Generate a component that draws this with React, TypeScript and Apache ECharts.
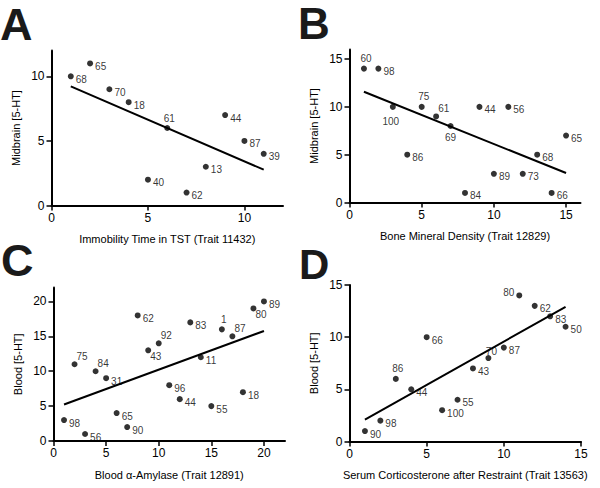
import React, { useEffect, useRef } from "react";
import * as echarts from "echarts";

// Panel A: Midbrain [5-HT] vs Immobility Time in TST
const aX = [1, 2, 3, 4, 6, 9, 10, 11, 8, 5, 7];
const aY = [10, 11, 9, 8, 6, 7, 5, 4, 3, 2, 1];
const aId = ["68", "65", "70", "18", "61", "44", "87", "39", "13", "40", "62"];
const aPlace = ["r", "r", "r", "r", "t", "r", "r", "r", "r", "r", "r"];

// Panel B: Midbrain [5-HT] vs Bone Mineral Density
const bX = [1, 2, 3, 5, 6, 7, 9, 11, 15, 4, 13, 10, 12, 8, 14];
const bY = [14, 14, 10, 10, 9, 8, 10, 10, 7, 5, 5, 3, 3, 1, 1];
const bId = ["60", "98", "100", "75", "61", "69", "44", "56", "65", "86", "68", "89", "73", "84", "66"];
const bPlace = ["t", "r", "b2", "t", "tr", "b", "r", "r", "r", "r", "r", "r", "r", "r", "r"];

// Panel C: Blood [5-HT] vs Blood α-Amylase
const cX = [1, 2, 3, 4, 5, 6, 7, 8, 9, 10, 11, 12, 13, 14, 15, 16, 17, 18, 19, 20];
const cY = [3, 11, 1, 10, 9, 4, 2, 18, 13, 14, 8, 6, 17, 12, 5, 16, 15, 7, 19, 20];
const cId = ["98", "75", "56", "84", "31", "65", "90", "62", "43", "92", "96", "44", "83", "11", "55", "1", "87", "18", "80", "89"];
const cPlace = ["r", "tr", "r", "tr", "r", "r", "r", "r", "br", "tr", "r", "r", "r", "r", "r", "t", "tr", "r", "br", "r"];

// Panel D: Blood [5-HT] vs Serum Corticosterone after Restraint
const dX = [1, 2, 3, 4, 5, 6, 7, 8, 9, 10, 11, 12, 13, 14];
const dY = [1, 2, 6, 5, 10, 3, 4, 7, 8, 9, 14, 13, 12, 11];
const dId = ["90", "98", "86", "44", "66", "100", "55", "43", "70", "87", "80", "62", "83", "50"];
const dPlace = ["r", "r", "t", "r", "r", "r", "r", "r", "tn", "r", "l", "r", "r", "r"];

const panelLetters = ["A", "B", "C", "D"];
const xTitles = [
  "Immobility Time in TST (Trait 11432)",
  "Bone Mineral Density (Trait 12829)",
  "Blood \u03b1-Amylase (Trait 12891)",
  "Serum Corticosterone after Restraint (Trait 13563)",
];
const yTitles = ["Midbrain [5-HT]", "Midbrain [5-HT]", "Blood [5-HT]", "Blood [5-HT]"];
const xMax = [12, 16, 22, 15];
const yMax = [12, 16, 22, 15];
const xTicks = [[0, 5, 10], [0, 5, 10, 15], [0, 5, 10, 15, 20], [0, 5, 10, 15]];
const yTicks = [[0, 5, 10], [0, 5, 10, 15], [0, 5, 10, 15, 20], [0, 5, 10, 15]];

const FONT = "'Liberation Sans', Arial, Helvetica, sans-serif";

const placeStyle: Record<string, any> = {
  r: { align: "left", offset: [5, 3] },
  t: { align: "center", offset: [2, -10] },
  tn: { align: "center", offset: [3, -7] },
  b: { align: "center", offset: [0, 11] },
  b2: { align: "center", offset: [-2, 15] },
  tr: { align: "left", offset: [2, -8] },
  br: { align: "left", offset: [2, 6] },
  l: { align: "right", offset: [-5, -3] },
};

function fit(xs: number[], ys: number[]) {
  const n = xs.length;
  const mx = xs.reduce((s, v) => s + v, 0) / n;
  const my = ys.reduce((s, v) => s + v, 0) / n;
  let sxy = 0;
  let sxx = 0;
  for (let i = 0; i < n; i++) {
    sxy += (xs[i] - mx) * (ys[i] - my);
    sxx += (xs[i] - mx) * (xs[i] - mx);
  }
  const k = sxy / sxx;
  const x0 = Math.min(...xs);
  const x1 = Math.max(...xs);
  return [
    [x0, my + k * (x0 - mx)],
    [x1, my + k * (x1 - mx)],
  ];
}

const grids = [
  { left: 51.5, top: 50.5, width: 231.5, height: 155 },
  { left: 349.5, top: 49.5, width: 231, height: 153 },
  { left: 53.5, top: 287.5, width: 231.5, height: 153.5 },
  { left: 349.5, top: 285, width: 231.5, height: 156.5 },
];

const letterPos = [
  [0, 24],
  [298, 23],
  [1, 260],
  [299, 264],
];
const letterSize = [45, 44, 45, 42];

export default function App() {
  const ref = useRef<HTMLDivElement>(null);
  useEffect(() => {
    if (!ref.current) return;
    const chart = echarts.init(ref.current, undefined, { renderer: "svg" });
    const panels = [
      [aX, aY, aId, aPlace],
      [bX, bY, bId, bPlace],
      [cX, cY, cId, cPlace],
      [dX, dY, dId, dPlace],
    ] as [number[], number[], string[], string[]][];

    const xAxis = panels.map((_, i) => ({
      gridIndex: i,
      type: "value",
      min: 0,
      max: xMax[i],
      interval: 5,
      name: xTitles[i],
      nameLocation: "middle",
      nameGap: 28,
      nameTextStyle: { color: "#000", fontSize: 11, fontFamily: FONT },
      axisLine: { show: true, onZero: false, lineStyle: { color: "#000", width: 2 } },
      axisTick: { show: true, length: 5, customValues: xTicks[i], lineStyle: { color: "#000", width: 1.5 } },
      axisLabel: { color: "#000", fontSize: 12, fontFamily: FONT, margin: 6, customValues: xTicks[i] },
      splitLine: { show: false },
    }));
    const yAxis = panels.map((_, i) => ({
      gridIndex: i,
      type: "value",
      min: 0,
      max: yMax[i],
      interval: 5,
      name: yTitles[i],
      nameLocation: "middle",
      nameGap: 30,
      nameTextStyle: { color: "#000", fontSize: 11, fontFamily: FONT },
      axisLine: { show: true, onZero: false, lineStyle: { color: "#000", width: 2 } },
      axisTick: { show: true, length: 5, customValues: yTicks[i], lineStyle: { color: "#000", width: 1.5 } },
      axisLabel: { color: "#000", fontSize: 12, fontFamily: FONT, margin: 7, customValues: yTicks[i] },
      splitLine: { show: false },
    }));

    const series: any[] = [];
    panels.forEach(([xs, ys, ids, places], i) => {
      series.push({
        type: "line",
        xAxisIndex: i,
        yAxisIndex: i,
        data: fit(xs, ys),
        symbol: "none",
        lineStyle: { color: "#000", width: 2 },
        silent: true,
        z: 2,
      });
      series.push({
        type: "scatter",
        xAxisIndex: i,
        yAxisIndex: i,
        symbolSize: 6,
        itemStyle: { color: "#000" },
        z: 3,
        data: xs.map((x, j) => ({
          value: [x, ys[j]],
          name: ids[j],
          label: {
            show: true,
            position: "inside",
            formatter: ids[j],
            color: "#000",
            fontSize: 10,
            fontFamily: FONT,
            verticalAlign: "middle",
            ...placeStyle[places[j]],
          },
        })),
      });
    });

    chart.setOption({
      animation: false,
      backgroundColor: "#fff",
      grid: grids,
      xAxis,
      yAxis,
      series,
      graphic: panelLetters.map((t, i) => ({
        type: "text",
        x: letterPos[i][0],
        y: letterPos[i][1],
        style: {
          text: t,
          fontSize: letterSize[i],
          lineHeight: 34,
          fontWeight: "bold",
          fontFamily: FONT,
          fill: "#1a1a1a",
          align: "left",
          verticalAlign: "middle",
        },
      })),
    });
    return () => chart.dispose();
  }, []);
  return (
    <div
      ref={ref}
      style={{ position: "absolute", left: 0, top: 0, width: 600, height: 488, background: "#fff" }}
    />
  );
}
